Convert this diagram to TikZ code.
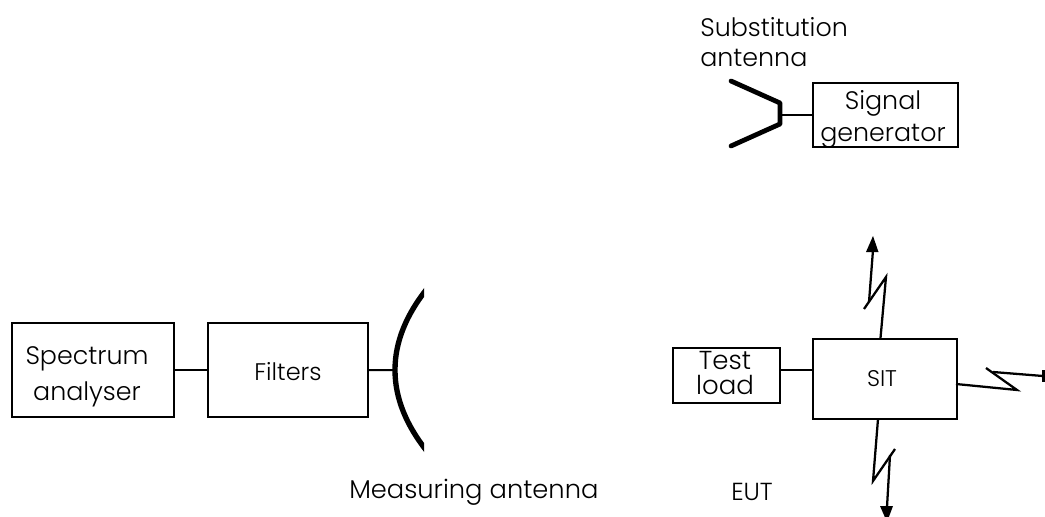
\documentclass[tikz,border=0pt]{standalone}
\usepackage{fontspec}
\setmainfont{Poppins}[UprightFont=* Light]
\begin{document}
\begin{tikzpicture}[x=0.75pt,y=-0.75pt,
  box/.style={draw=black,line width=1.6pt,inner sep=0pt,anchor=north west,fill=none},
  lbl/.style={font=\fontsize{19}{27}\selectfont,text=black,align=center,inner sep=0pt},
  wire/.style={draw=black,line width=1.5pt},
  thick antenna/.style={draw=black,line width=3.6pt,line cap=round,line join=bevel},
  bolt/.style={draw=black,line width=1.7pt}]
\useasboundingbox (0,0) rectangle (1045,517);
\clip (0,0) rectangle (1045,517);
\node[box,minimum width=121.5pt,minimum height=70.5pt] (sa) at (11,322) {};
\node[box,minimum width=120pt,minimum height=70.5pt] (fi) at (207,322) {};
\node[box,minimum width=80pt,minimum height=41pt] (tl) at (672,347) {};
\node[box,minimum width=108.5pt,minimum height=60pt] (sit) at (811.5,338) {};
\node[box,minimum width=108.5pt,minimum height=48pt] (sg) at (812,82) {};
\node[lbl] (t1) at (87,377) {Spectrum\\analyser};
\node[lbl,font=\fontsize{18}{20}\selectfont] (t2) at (288,372) {Filters};
\node[lbl,font=\fontsize{19.5}{19}\selectfont] (t3) at (725,373) {Test\\load};
\node[lbl,font=\fontsize{17}{19}\selectfont] (t4) at (882,379) {SIT};
\node[lbl,font=\fontsize{19}{24}\selectfont] (t5) at (883,119) {Signal\\generator};
\node[lbl,font=\fontsize{19}{23}\selectfont,align=left,anchor=north west] (t6) at (700,17) {Substitution\\antenna};
\node[lbl,font=\fontsize{19.3}{27}\selectfont,anchor=west] (t7) at (349,492) {Measuring antenna};
\node[lbl,font=\fontsize{18.5}{20}\selectfont,anchor=west] (t8) at (731,492) {EUT};
\draw[wire] (sa.east) -- (fi.west);
\draw[wire] (tl.east |- 0,370) -- (sit.west |- 0,370);
\coordinate (dishc) at (395,370);
\draw[wire] (fi.east) -- (dishc);
\begin{scope}
\clip (380,280) rectangle (424,460);
\draw[draw=black,line width=4pt] (430,285) .. controls (406,314) and (395,342) .. (dishc) .. controls (395,398) and (406,426) .. (430,455);
\end{scope}
\coordinate (a1) at (731,81); \coordinate (a2) at (780,103); \coordinate (a3) at (780,124); \coordinate (a4) at (731,146);
\draw[thick antenna] (a1) -- (a2) -- (a3) -- (a4);
\draw[wire] (a2 |- sg.west) -- (sg.west);
% up
\coordinate (u1) at (880.5,338); \coordinate (u2) at (886,277); \coordinate (u3) at (864,309);
\coordinate (u4) at (869,302); \coordinate (u5) at (873,250);
\draw[bolt] (u1) -- (u2) -- (u3);
\draw[bolt] (u4) -- (u5);
\fill[black] (866,252) -- (878.5,252) -- (873,236) -- cycle;
% right
\coordinate (r1) at (956,384); \coordinate (r2) at (1017,390); \coordinate (r3) at (986,368);
\coordinate (r4) at (993,372); \coordinate (r5) at (1043,376);
\draw[bolt] (r1) -- (r2) -- (r3);
\draw[bolt] (r4) -- (r5);
\fill[black] (1042,370) rectangle (1046,382);
% down
\coordinate (d1) at (878,419); \coordinate (d2) at (873,481); \coordinate (d3) at (895,449);
\coordinate (d4) at (890,455); \coordinate (d5) at (887,507);
\draw[bolt] (d1) -- (d2) -- (d3);
\draw[bolt] (d4) -- (d5);
\fill[black] (880,506) -- (893,506) -- (887,522) -- cycle;
\end{tikzpicture}
\end{document}
